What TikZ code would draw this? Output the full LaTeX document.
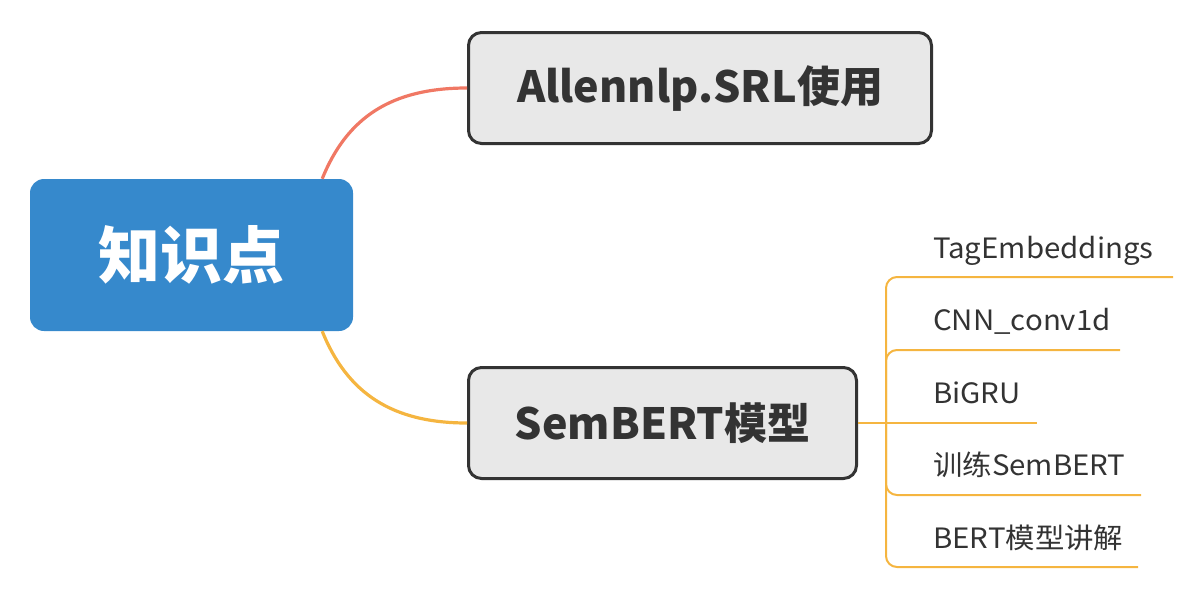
\documentclass[tikz,border=0pt]{standalone}
\usepackage{fontspec}
\setmainfont{Noto Sans CJK SC}
\newfontfamily\leaffont[FakeStretch=1.05]{Noto Sans CJK SC}
\usetikzlibrary{calc}
\definecolor{cblue}{HTML}{3689CC}
\definecolor{cred}{HTML}{F07864}
\definecolor{cyel}{HTML}{F5B540}
\definecolor{cgray}{HTML}{E8E8E8}
\definecolor{cdark}{HTML}{333333}
\tikzset{
  rootbox/.style={rectangle, rounded corners=14pt, fill=cblue, text=white,
    minimum width=323pt, minimum height=152pt, inner sep=0pt,
    font=\fontsize{62}{62}\selectfont\bfseries},
  mainbox/.style={rectangle, rounded corners=13pt, fill=cgray, draw=cdark,
    line width=3pt, text=cdark, inner sep=0pt, minimum height=111pt,
    font=\fontsize{43}{43}\selectfont\bfseries},
  leaf/.style={anchor=base west, inner sep=0pt, text=cdark,
    font=\leaffont\fontsize{28}{28}\selectfont},
  bigcurve/.style={line width=3.2pt},
  twig/.style={line width=2pt, draw=cyel, rounded corners=11pt},
}
\begin{document}
\begin{tikzpicture}[x=1pt,y=-1pt]
\useasboundingbox (0,0) rectangle (1198,590);
\node[rootbox] (root) at (191.5,255) {知识点};
\node[mainbox, minimum width=463pt] (srl) at (700,88) {Allennlp.SRL使用};
\node[mainbox, minimum width=388pt] (sem) at (662.5,423) {SemBERT模型};
% curves
\draw[bigcurve, cred] ([xshift=-31pt]root.north east) .. controls +(25,-62) and +(-75,0) .. (srl.west);
\draw[bigcurve, cyel] ([xshift=-31pt]root.south east) .. controls +(25,62) and +(-75,0) .. (sem.west);
% leaves
\node[leaf] (l1) at (933,258) {TagEmbeddings};
\node[leaf] (l2) at (933,330.5) {CNN\_conv1d};
\node[leaf] (l3) at (933,403) {BiGRU};
\node[leaf] (l4) at (933,475.5) {训练SemBERT};
\node[leaf] (l5) at (933,548) {BERT模型讲解};
\coordinate (t) at (886,423);
\coordinate (e1) at (1173,277);
\coordinate (e2) at (1120,350);
\coordinate (e3) at (1037,423);
\coordinate (e4) at (1141,495);
\coordinate (e5) at (1138,567);
\draw[twig] (sem.east) -- (e3);
\draw[twig] (t) |- (e1);
\draw[twig] (t) |- (e2);
\draw[twig] (t) |- (e4);
\draw[twig] (t) |- (e5);
\end{tikzpicture}
\end{document}
